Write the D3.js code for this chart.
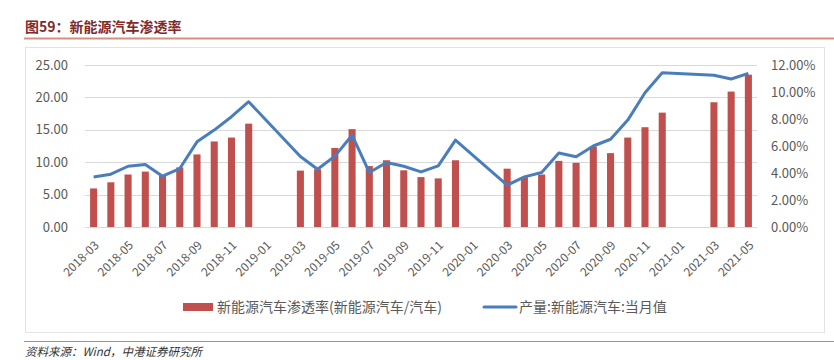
<!DOCTYPE html>
<html>
<head>
<meta charset="utf-8">
<script src="https://cdn.jsdelivr.net/npm/d3@7"></script>
<style>
  body { margin: 0; background: #fff; }
  svg text { font-family: "Noto Sans CJK SC", "Noto Sans", sans-serif; }
</style>
</head>
<body>
<svg id="chart" width="834" height="360"></svg>
<script>
const months = [
  '2018-03', '2018-04', '2018-05', '2018-06', '2018-07', '2018-08', '2018-09', '2018-10', '2018-11', '2018-12',
  '2019-01', '2019-02', '2019-03', '2019-04', '2019-05', '2019-06', '2019-07', '2019-08', '2019-09', '2019-10', '2019-11', '2019-12',
  '2020-01', '2020-02', '2020-03', '2020-04', '2020-05', '2020-06', '2020-07', '2020-08', '2020-09', '2020-10', '2020-11', '2020-12',
  '2021-01', '2021-02', '2021-03', '2021-04', '2021-05',
]
// bars, left axis
const barValues = [
  5.95, 6.9, 8.1, 8.55, 7.9, 9.2, 11.2, 13.2, 13.8, 15.95,
  null, null, 8.7, 8.9, 12.2, 15.1, 9.4, 10.3, 8.75, 7.7, 7.5, 10.3,
  null, null, 9.0, 7.7, 8.1, 10.2, 9.9, 12.4, 11.4, 13.8, 15.4, 17.65,
  null, null, 19.25, 20.9, 23.5,
]
// line, right axis (%)
const lineValues = [
  3.71, 3.91, 4.5, 4.63, 3.76, 4.33, 6.31, 7.18, 8.17, 9.28,
  null, null, 5.22, 4.28, 5.25, 6.8, 4.04, 4.78, 4.5, 4.08, 4.53, 6.44,
  null, null, 3.1, 3.71, 4.04, 5.48, 5.2, 6.0, 6.5, 7.92, 9.95, 11.43,
  null, null, 11.24, 10.96, 11.38,
]
const leftTicks = [0, 5, 10, 15, 20, 25]
const rightTicks = [0, 2, 4, 6, 8, 10, 12]
const barLabel = '新能源汽车渗透率(新能源汽车/汽车)'
const lineLabel = '产量:新能源汽车:当月值'

const svg = d3.select('#chart')
const plot = { left: 85, right: 757, top: 65, bottom: 227 }

// title and frame
svg.append('text')
  .attr('x', 25).attr('y', 32)
  .attr('font-size', 14).attr('font-weight', 'bold')
  .attr('fill', '#7f2a2a')
  .text('图59：新能源汽车渗透率')
svg.append('line')
  .attr('x1', 24).attr('x2', 834).attr('y1', 38.5).attr('y2', 38.5)
  .attr('stroke', '#d4907e').attr('stroke-width', 2)
svg.append('rect')
  .attr('x', 25.5).attr('y', 47.5).attr('width', 799).attr('height', 285)
  .attr('fill', 'none').attr('stroke', '#e3e3e3')
svg.append('line')
  .attr('x1', 24).attr('x2', 834).attr('y1', 341.5).attr('y2', 341.5)
  .attr('stroke', '#c9806e').attr('stroke-width', 1)
svg.append('text')
  .attr('x', 25).attr('y', 356)
  .attr('font-size', 11.5).attr('font-style', 'italic').attr('fill', '#333')
  .text('资料来源：Wind，中港证券研究所')

const x = d3.scaleBand()
  .domain(months)
  .range([plot.left, plot.right])
  .paddingInner(0.59)
  .paddingOuter(0.295)
const yLeft = d3.scaleLinear().domain([0, 25]).range([plot.bottom, plot.top])
const yRight = d3.scaleLinear().domain([0, 12]).range([plot.bottom, plot.top])

// grid
svg.append('g')
  .selectAll('line')
  .data(leftTicks)
  .join('line')
  .attr('x1', plot.left).attr('x2', plot.right)
  .attr('y1', d => Math.round(yLeft(d)) + 0.5)
  .attr('y2', d => Math.round(yLeft(d)) + 0.5)
  .attr('stroke', '#d9d9d9').attr('stroke-width', 1)

// left axis
const leftAxis = svg.append('g')
  .attr('transform', `translate(${plot.left - 17},0)`)
  .call(d3.axisLeft(yLeft).tickValues(leftTicks).tickFormat(d3.format('.2f')).tickSize(0).tickPadding(0))
leftAxis.select('.domain').remove()
leftAxis.selectAll('text').attr('font-size', 13).attr('fill', '#595959')

// right axis
const rightAxis = svg.append('g')
  .attr('transform', `translate(${plot.right + 14},0)`)
  .call(d3.axisRight(yRight).tickValues(rightTicks).tickFormat(d => d3.format('.2f')(d) + '%').tickSize(0).tickPadding(0))
rightAxis.select('.domain').remove()
rightAxis.selectAll('text').attr('font-size', 13).attr('fill', '#595959')

// x labels
const xAxis = svg.append('g')
  .attr('transform', `translate(0,${plot.bottom})`)
  .call(d3.axisBottom(x).tickValues(months.filter((m, i) => i % 2 === 0)).tickSize(0).tickPadding(0))
xAxis.select('.domain').remove()
xAxis.selectAll('text')
  .attr('font-size', 12).attr('fill', '#595959')
  .attr('text-anchor', 'end')
  .attr('transform', 'translate(3,16) rotate(-45)')
  .attr('dy', '0.35em')
  .attr('y', 0)

// bars
svg.append('g')
  .selectAll('rect')
  .data(months.map((m, i) => ({ m, v: barValues[i] })).filter(d => d.v !== null))
  .join('rect')
  .attr('x', d => x(d.m))
  .attr('y', d => yLeft(d.v))
  .attr('width', x.bandwidth())
  .attr('height', d => yLeft(0) - yLeft(d.v))
  .attr('fill', '#c0504d')

// line, gaps connected
const linePoints = months.map((m, i) => ({ m, v: lineValues[i] })).filter(d => d.v !== null)
svg.append('path')
  .datum(linePoints)
  .attr('fill', 'none')
  .attr('stroke', '#4a7ebb')
  .attr('stroke-width', 3)
  .attr('stroke-linejoin', 'round')
  .attr('d', d3.line().x(d => x(d.m) + x.bandwidth() / 2).y(d => yRight(d.v)))

// legend
const legend = svg.append('g').attr('font-size', 14).attr('fill', '#595959')
legend.append('rect')
  .attr('x', 183).attr('y', 303).attr('width', 30).attr('height', 8)
  .attr('fill', '#c0504d')
legend.append('text')
  .attr('x', 217).attr('y', 312)
  .attr('fill', '#595959')
  .text(barLabel)
legend.append('line')
  .attr('x1', 484).attr('x2', 516).attr('y1', 307).attr('y2', 307)
  .attr('stroke', '#4a7ebb').attr('stroke-width', 3).attr('stroke-linecap', 'round')
legend.append('text')
  .attr('x', 519).attr('y', 312)
  .attr('fill', '#595959')
  .text(lineLabel)
</script>
</body>
</html>
